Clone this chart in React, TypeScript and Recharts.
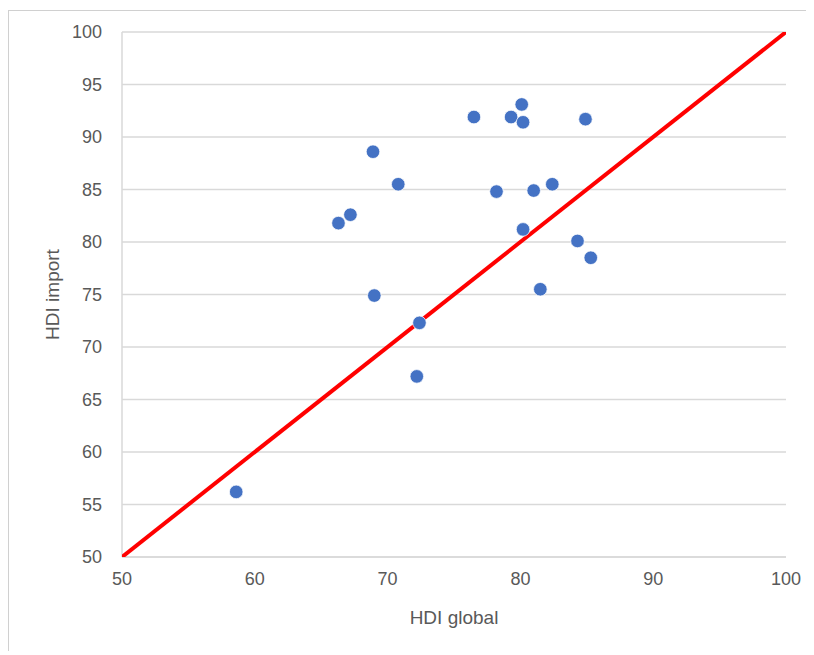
import React from 'react';
import { ScatterChart, Scatter, XAxis, YAxis, CartesianGrid } from 'recharts';

const hdiGlobal = [58.6, 66.3, 67.2, 68.9, 69.0, 70.8, 72.4, 72.2, 76.5, 78.2, 79.3, 80.1, 80.2, 80.2, 81.0, 81.5, 82.4, 84.3, 84.9, 85.3];
const hdiImport = [56.2, 81.8, 82.6, 88.6, 74.9, 85.5, 72.3, 67.2, 91.9, 84.8, 91.9, 93.1, 91.4, 81.2, 84.9, 75.5, 85.5, 80.1, 91.7, 78.5];
const lineX = [50, 100];
const lineY = [50, 100];
const xTicks = [50, 60, 70, 80, 90, 100];
const yTicks = [50, 55, 60, 65, 70, 75, 80, 85, 90, 95, 100];

const points = hdiGlobal.map((x, i) => ({ x, y: hdiImport[i] }));
const lineData = lineX.map((x, i) => ({ x, y: lineY[i] }));

const FONT = '"Liberation Sans", Arial, sans-serif';
const GRAY = '#595959';

const Dot = (p: any) => (
  <circle cx={p.cx} cy={p.cy} r={6.8} fill="#4472C4" stroke="#ffffff" strokeWidth={0.75} />
);

const YLabel = (props: any) => {
  const vb = props.viewBox || {};
  const cx = vb.x + 20;
  const cy = vb.y + vb.height / 2;
  return (
    <text x={cx} y={cy} transform={`rotate(-90, ${cx}, ${cy})`} textAnchor="middle" dominantBaseline="central"
      fill={GRAY} fontSize={19} fontFamily={FONT}>HDI import</text>
  );
};

const XLabel = (props: any) => {
  const vb = props.viewBox || {};
  const cx = vb.x + vb.width / 2;
  const cy = vb.y + vb.height + 10;
  return (
    <text x={cx} y={cy} textAnchor="middle" dominantBaseline="central"
      fill={GRAY} fontSize={19} fontFamily={FONT}>HDI global</text>
  );
};

export default function App() {
  return (
    <div style={{ borderTop: '1px solid #d0d0d0', borderLeft: '1px solid #d0d0d0', width: 805, height: 640, marginTop: 2, background: '#fff' }}>
      <ScatterChart width={805} height={640} margin={{ top: 21, right: 28, left: 23, bottom: 44 }}>
        <CartesianGrid horizontal={true} vertical={false} stroke="#d9d9d9" strokeWidth={1.5} />
        <XAxis type="number" dataKey="x" domain={[50, 100]} ticks={xTicks} allowDataOverflow
          height={50} tickLine={false} tickSize={0} tickMargin={15}
          axisLine={{ stroke: '#d9d9d9', strokeWidth: 1.5 }}
          tick={{ fill: GRAY, fontSize: 18, fontFamily: FONT }}
          label={<XLabel />} />
        <YAxis type="number" dataKey="y" domain={[50, 100]} ticks={yTicks} allowDataOverflow
          width={90} tickLine={false} tickSize={0} tickMargin={20}
          axisLine={{ stroke: '#d9d9d9', strokeWidth: 1.5 }}
          tick={{ fill: GRAY, fontSize: 18, fontFamily: FONT }}
          label={<YLabel />} />
        <Scatter data={lineData} line={{ stroke: '#FF0000', strokeWidth: 4 }} shape={() => <g />} isAnimationActive={false} />
        <Scatter data={points} shape={Dot} isAnimationActive={false} />
      </ScatterChart>
    </div>
  );
}
